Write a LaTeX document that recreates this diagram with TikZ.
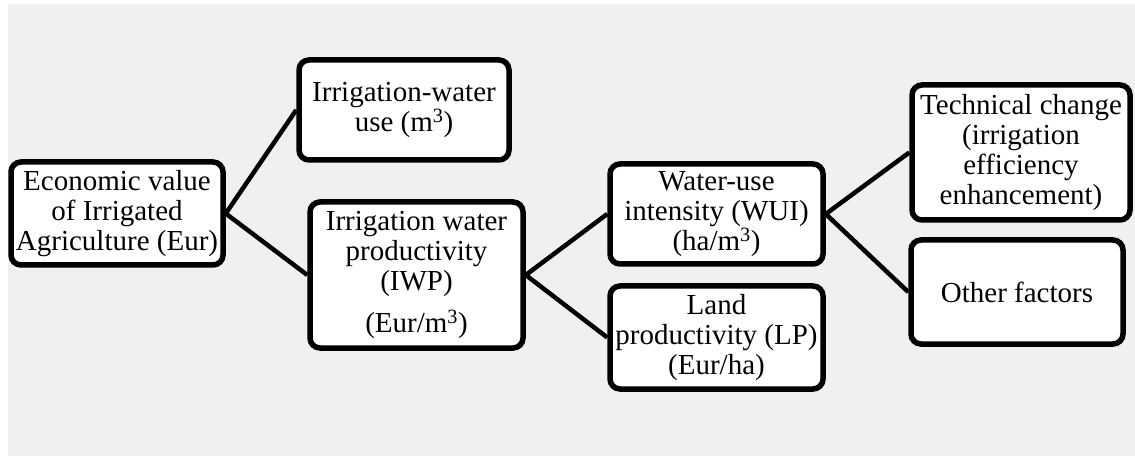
\documentclass[tikz,border=0pt]{standalone}
\usepackage{fontspec}
\setmainfont{Liberation Serif}
\definecolor{panel}{HTML}{F0F0F0}
\begin{document}
\begin{tikzpicture}[x=1pt,y=-1pt,
  box/.style={draw=black, line width=5.5pt, rounded corners=10pt, fill=white,
    align=center, inner sep=0pt, font=\fontsize{29pt}{30pt}\selectfont},
  link/.style={draw=black, line width=4.5pt}]
  % canvas and grey panel
  \fill[white] (0,0) rectangle (1135,462);
  \fill[panel] (8,4) rectangle (1135,456);
  \useasboundingbox (0,0) rectangle (1135,462);

  % boxes (sizes measured on the border centre line)
  \node[box, minimum width=212pt, minimum height=103pt] (eco) at (117,213.5)
    {Economic value\\ of Irrigated\\ Agriculture (Eur)};
  \node[box, minimum width=210pt, minimum height=100pt] (use) at (404,110)
    {Irrigation-water\\ use (m\textsuperscript{3})};
  \node[box, minimum width=213pt, minimum height=146pt] (iwp) at (416.5,275)
    {Irrigation water\\ productivity\\ (IWP)\\[12pt] (Eur/m\textsuperscript{3})};
  \node[box, minimum width=213pt, minimum height=100pt] (wui) at (716.5,214)
    {Water-use\\ intensity (WUI)\\ (ha/m\textsuperscript{3})};
  \node[box, minimum width=213pt, minimum height=103pt] (lp) at (716.5,337.5)
    {Land\\ productivity (LP)\\ (Eur/ha)};
  \node[box, minimum width=218pt, minimum height=135pt] (tech) at (1021,152.5)
    {Technical change\\ (irrigation\\ efficiency\\ enhancement)};
  \node[box, minimum width=212pt, minimum height=104pt] (other) at (1017,292)
    {Other factors};

  % connectors between the boxes
  \draw[link] (eco.east) -- (use.west);
  \draw[link] (eco.east) -- (iwp.west);
  \draw[link] (iwp.east) -- (wui.west);
  \draw[link] (iwp.east) -- (lp.west);
  \draw[link] (wui.east) -- (tech.west);
  \draw[link] (wui.east) -- (other.west);
\end{tikzpicture}
\end{document}
